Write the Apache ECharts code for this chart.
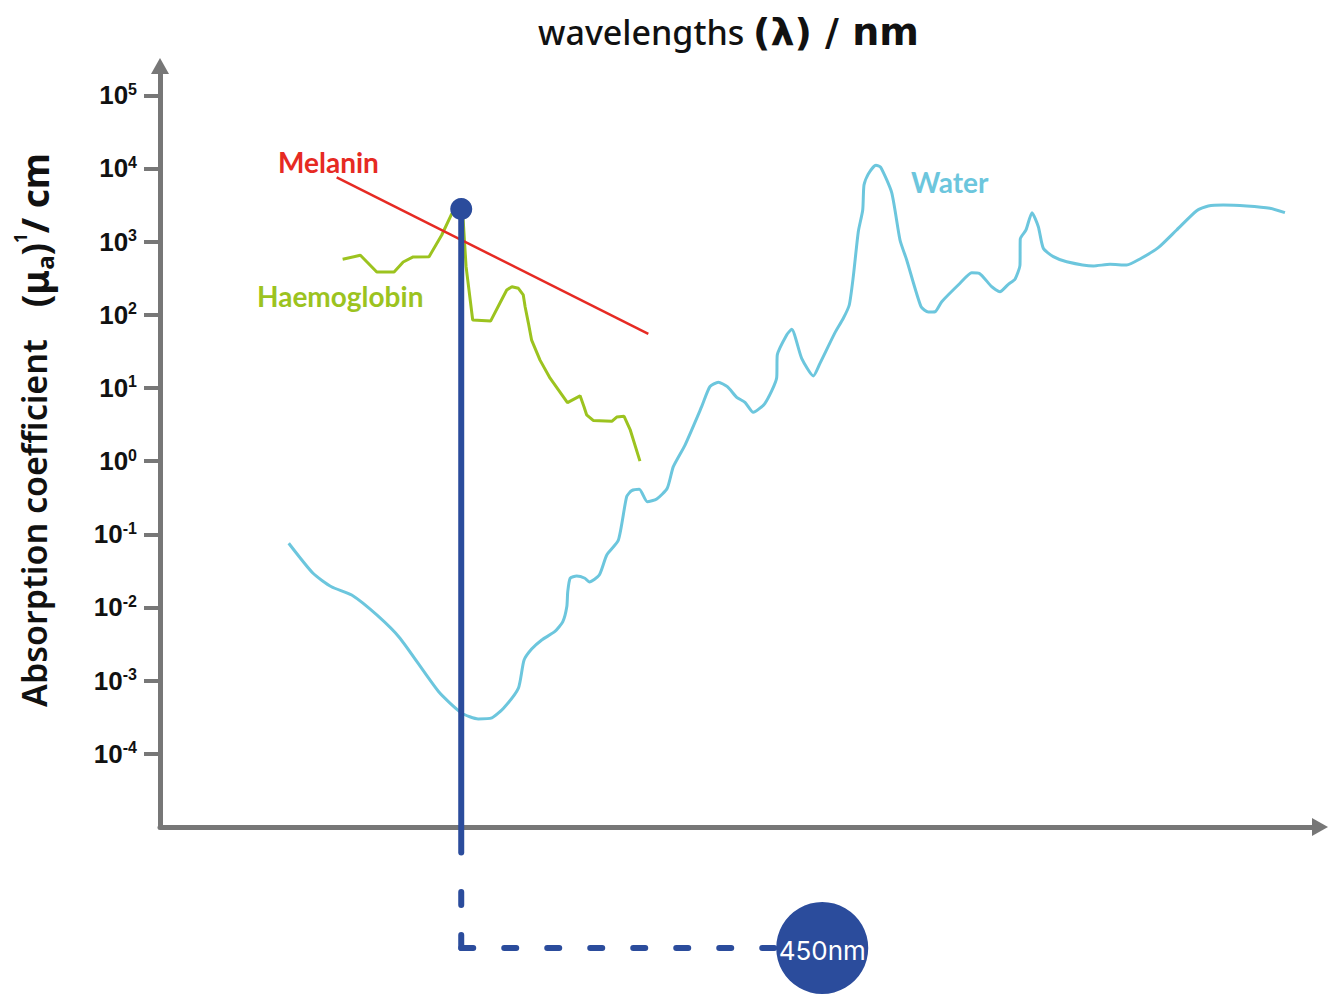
<!DOCTYPE html>
<html>
<head>
<meta charset="utf-8">
<title>Absorption coefficient vs wavelength</title>
<script src="https://cdn.jsdelivr.net/npm/echarts@6/dist/echarts.min.js"></script>
<style>
html, body { margin: 0; padding: 0; background: #fff; }
#chart { width: 1335px; height: 994px; }
</style>
</head>
<body>
<div id="chart"></div>
<script>
// powers of ten labelled on the y axis
const yTickExps = [-4, -3, -2, -1, 0, 1, 2, 3, 4, 5];

// water absorption (nm, 1/cm)
const waterNm = [206, 230, 250, 274, 307, 341, 406, 451, 486, 517,
  545, 583, 598, 619, 648, 688, 713, 726, 729, 737,
  759, 788, 804, 841, 870, 917, 952, 974, 1008, 1045,
  1091, 1144, 1176, 1240, 1337, 1388, 1442, 1502, 1567, 1627,
  1689, 1781, 1878, 1883, 1965, 2010, 2103, 2217, 2285, 2446,
  2540, 2609, 2657, 2718, 2773, 2789, 2844, 2944, 3008, 3162,
  3283, 3384, 3611, 3732, 3847, 3966, 4309, 4543, 4701, 4973,
  5163, 5362, 5526, 5653, 5660, 5809, 5969, 6143, 6283, 6575,
  6985, 7879, 8500, 9165, 9734, 10575, 11495, 12586, 13265, 14197,
  15784, 17539, 18770];
const waterAbs = [0.0754, 0.0293, 0.0192, 0.0148, 0.0079, 0.0038, 0.00071, 0.00036, 0.00030, 0.00031,
  0.00042, 0.00079, 0.0019, 0.0027, 0.0036, 0.0047, 0.0064, 0.0103, 0.0164, 0.0251,
  0.0269, 0.0251, 0.0223, 0.0278, 0.0522, 0.0836, 0.327, 0.395, 0.412, 0.279,
  0.304, 0.426, 0.84, 1.66, 5.55, 10.4, 12.0, 10.4, 7.46, 6.37,
  4.65, 6.17, 13.8, 28.2, 53.0, 63.4, 25.4, 14.6, 21.7, 57.0,
  89.6, 136, 332, 1367, 2706, 5944, 8403, 11050, 10375, 4666,
  1053, 561, 129, 109, 110, 151, 270, 376, 369, 242,
  207, 261, 306, 479, 1087, 1443, 2487, 1600, 811, 623,
  532, 465, 490, 479, 579, 826, 1443, 2647, 3070, 3168,
  3070, 2855, 2487];

// haemoglobin
const hbNm = [263, 285, 307, 332, 346, 362, 389, 412, 431, 443,
  454, 460, 474, 514, 536, 553, 566, 583, 596, 601,
  610, 619, 643, 673, 728, 771, 785, 794, 818, 890,
  910, 941, 967, 1011];
const hbAbs = [574, 650, 385, 385, 527, 617, 623, 1232, 2387, 2706,
  1976, 455, 85, 82, 144, 218, 242, 230, 187, 129,
  77, 45, 24, 13.6, 6.3, 7.8, 5.5, 4.3, 3.6, 3.5,
  4.0, 4.1, 2.7, 1.0];

// melanin (straight line)
const melaninNm = [256, 1050];
const melaninAbs = [7570, 54.7];

// 450nm marker: dot on top, foot below the x axis
const markerNm = 450;
const markerAbs = [2790, 4.5e-6];

const BLUE = '#2b4c9c';
const GREY = '#777777';
const WATER = '#6cc6dd';
const HB = '#9cc31f';
const MEL = '#e62a23';

const pairs = (xs, ys) => xs.map((x, i) => [x, ys[i]]);
const yTicks = yTickExps.map(e => Math.pow(10, e));

const chart = echarts.init(document.getElementById('chart'), null, { renderer: 'svg' });

const option = {
  animation: false,
  title: {
    text: '{a|wavelengths }{b|(λ) / nm}',
    left: 533,
    top: 8,
    textStyle: {
      rich: {
        a: { fontFamily: 'Noto Sans', fontWeight: 500, fontSize: 34, color: '#111' },
        b: { fontFamily: 'DejaVu Sans', fontWeight: 'bold', fontSize: 38, color: '#111' }
      }
    }
  },
  grid: { left: 160, right: 15, top: 66, bottom: 167 },
  xAxis: {
    type: 'log',
    min: 115,
    max: 22000,
    axisLine: {
      show: true,
      onZero: false,
      symbol: ['none', 'triangle'],
      symbolSize: [18, 16],
      lineStyle: { color: GREY, width: 5 }
    },
    axisTick: { show: false },
    axisLabel: { show: false },
    splitLine: { show: false }
  },
  yAxis: {
    type: 'log',
    min: 1e-5,
    max: Math.pow(10, 5.4),
    axisLine: {
      show: true,
      onZero: false,
      symbol: ['none', 'triangle'],
      symbolSize: [18, 16],
      lineStyle: { color: GREY, width: 5 }
    },
    axisTick: {
      show: true,
      length: 16,
      customValues: yTicks,
      lineStyle: { color: GREY, width: 4 }
    },
    axisLabel: {
      customValues: yTicks,
      margin: 23,
      formatter: v => '{b|10}{s|' + Math.round(Math.log10(v)) + '}',
      rich: {
        b: { fontFamily: 'Liberation Sans', fontWeight: 'bold', fontSize: 26, color: '#111', lineHeight: 28 },
        s: { fontFamily: 'Liberation Sans', fontWeight: 'bold', fontSize: 16, color: '#111', lineHeight: 16, verticalAlign: 'top' }
      }
    },
    splitLine: { show: false }
  },
  series: [
    {
      name: 'Water',
      type: 'line',
      data: pairs(waterNm, waterAbs),
      showSymbol: false,
      smooth: 0.2,
      lineStyle: { color: WATER, width: 3 },
      z: 2
    },
    {
      name: 'Haemoglobin',
      type: 'line',
      data: pairs(hbNm, hbAbs),
      showSymbol: false,
      lineStyle: { color: HB, width: 3 },
      z: 3
    },
    {
      name: 'Melanin',
      type: 'line',
      data: pairs(melaninNm, melaninAbs),
      showSymbol: false,
      lineStyle: { color: MEL, width: 2.5 },
      z: 3
    },
    {
      name: '450nm',
      type: 'line',
      clip: false,
      symbol: 'circle',
      data: [
        { value: [markerNm, markerAbs[0]], symbolSize: 22 },
        { value: [markerNm, markerAbs[1]], symbolSize: 0 }
      ],
      itemStyle: { color: BLUE },
      lineStyle: { color: BLUE, width: 6, cap: 'round' },
      z: 5
    }
  ]
};
chart.setOption(option);

// annotations placed from the 450nm position on the axis
const foot = chart.convertToPixel({ gridIndex: 0 }, [markerNm, 1e-5]);
const x0 = foot[0];
const yc = foot[1] + 121;
const cx = x0 + 361;

chart.setOption({
  graphic: [
    {
      type: 'text', x: 34, y: 430, rotation: Math.PI / 2,
      style: {
        text: '{t|Absorption coefficient}{g|}{b|(μ}{sub|a}{b|)}{sup|1}{b|/ cm}',
        align: 'center', verticalAlign: 'middle',
        rich: {
          t: { fontFamily: 'Noto Sans', fontWeight: 600, fontSize: 34, fill: '#111', lineHeight: 44 },
          g: { width: 32 },
          b: { fontFamily: 'Noto Sans', fontWeight: 'bold', fontSize: 37, fill: '#111', lineHeight: 44 },
          sub: { fontFamily: 'Noto Sans', fontWeight: 'bold', fontSize: 24, fill: '#111', lineHeight: 24, verticalAlign: 'bottom' },
          sup: { fontFamily: 'Noto Sans', fontWeight: 'bold', fontSize: 17, fill: '#111', lineHeight: 17, verticalAlign: 'top' }
        }
      }
    },
    { type: 'text', x: 278, y: 162, style: { text: 'Melanin', font: 'bold 28px Lato', fill: MEL, align: 'left', verticalAlign: 'middle' } },
    { type: 'text', x: 257, y: 296, style: { text: 'Haemoglobin', font: 'bold 28px Lato', fill: HB, align: 'left', verticalAlign: 'middle' } },
    { type: 'text', x: 911, y: 182, style: { text: 'Water', font: 'bold 28px Lato', fill: WATER, align: 'left', verticalAlign: 'middle' } },
    {
      type: 'polyline',
      shape: { points: [[x0, yc], [x0, yc - 60]] },
      style: { stroke: BLUE, lineWidth: 6, lineCap: 'round', lineDash: [13, 30], fill: null }
    },
    {
      type: 'polyline',
      shape: { points: [[x0, yc], [cx - 48, yc]] },
      style: { stroke: BLUE, lineWidth: 6, lineCap: 'round', lineDash: [12, 31], fill: null }
    },
    {
      type: 'circle',
      shape: { cx: cx, cy: yc, r: 46 },
      style: { fill: BLUE },
      z: 10
    },
    {
      type: 'text', x: cx, y: yc + 2, z: 11,
      style: { text: '450nm', font: '26px Inter', fill: '#fff', align: 'center', verticalAlign: 'middle' }
    }
  ]
});
</script>
</body>
</html>
